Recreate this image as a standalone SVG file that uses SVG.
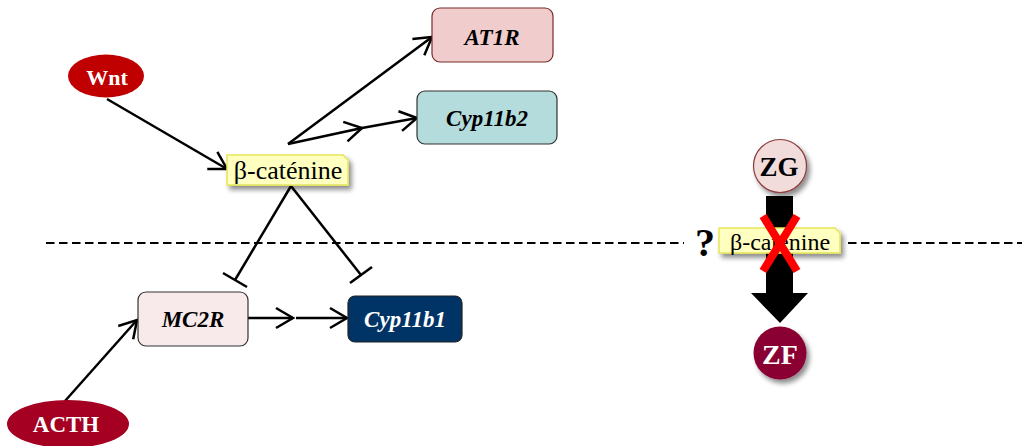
<svg xmlns="http://www.w3.org/2000/svg" width="1022" height="446" viewBox="0 0 1022 446">
<defs>
<filter id="sh" x="-20%" y="-20%" width="150%" height="160%">
<feGaussianBlur in="SourceAlpha" stdDeviation="2.5"/>
<feOffset dx="3" dy="4" result="b"/>
<feComponentTransfer><feFuncA type="linear" slope="0.45"/></feComponentTransfer>
<feMerge><feMergeNode/><feMergeNode in="SourceGraphic"/></feMerge>
</filter>
<marker id="arr" markerUnits="userSpaceOnUse" markerWidth="40" markerHeight="40" refX="0" refY="0" viewBox="-20 -20 40 40" orient="auto" overflow="visible">
<path d="M-17,-10 L0,0 L-17,10" fill="none" stroke="#000" stroke-width="2.5" stroke-linejoin="miter"/>
</marker>
</defs>
<style>
.ln{stroke:#000;stroke-width:2.5;fill:none}
.dash{stroke:#000;stroke-width:2;stroke-dasharray:8.5 4.5;fill:none}
.t{font-family:"Liberation Serif","Times New Roman",serif;text-anchor:middle}
.gene{font-weight:bold;font-style:italic;font-size:23px}
.bold{font-weight:bold}
.beta{fill:#ffffc0;stroke:#e6e65a;stroke-width:1.5}
</style>

<g id="separator">
<line class="dash" x1="46" y1="243" x2="684" y2="243"/>
<line class="dash" x1="848" y1="243" x2="1022" y2="243"/>
</g>

<g id="connectors">
<line class="ln" x1="107" y1="99" x2="227" y2="169" marker-end="url(#arr)"/>
<line class="ln" x1="288" y1="144" x2="432" y2="37" marker-end="url(#arr)"/>
<line class="ln" x1="288" y1="144" x2="362" y2="128" marker-end="url(#arr)"/>
<line class="ln" x1="362" y1="128" x2="417" y2="118" marker-end="url(#arr)"/>
<line class="ln" x1="291" y1="186" x2="235" y2="280"/>
<line class="ln" x1="223" y1="273" x2="247" y2="287"/>
<line class="ln" x1="291" y1="186" x2="361" y2="275"/>
<line class="ln" x1="350" y1="283" x2="372" y2="267"/>
<line class="ln" x1="65" y1="401" x2="137" y2="320" marker-end="url(#arr)"/>
<line class="ln" x1="248" y1="318" x2="293" y2="318" marker-end="url(#arr)"/>
<line class="ln" x1="296" y1="318" x2="347" y2="318" marker-end="url(#arr)"/>
</g>

<g id="wnt">
<ellipse cx="106" cy="76" rx="38" ry="21.5" fill="#c00000"/>
<text class="t bold" x="107" y="85" font-size="22" fill="#fff">Wnt</text>
</g>

<g id="at1r">
<rect x="432" y="8" width="121" height="54" rx="8" fill="#f0cccc" stroke="#7a2b2b" stroke-width="1.2"/>
<text class="t gene" x="492" y="45">AT1R</text>
</g>

<g id="cyp11b2">
<rect x="417" y="91" width="140" height="53" rx="8" fill="#b4dcdc" stroke="#333" stroke-width="1.2"/>
<text class="t gene" x="487" y="126">Cyp11b2</text>
</g>

<g id="beta-catenine">
<path class="beta" filter="url(#sh)" d="M227,155 H343 L348,160 V185 H227 Z"/>
<text class="t" x="288" y="179" font-size="26">β-caténine</text>
</g>

<g id="mc2r">
<rect x="138" y="292" width="110" height="54" rx="8" fill="#f8eaea" stroke="#333" stroke-width="1.2"/>
<text class="t gene" x="193" y="327">MC2R</text>
</g>

<g id="cyp11b1">
<rect x="348" y="296" width="114" height="46" rx="7" fill="#003366" stroke="#222" stroke-width="1.2"/>
<text class="t gene" x="405" y="327" fill="#fff">Cyp11b1</text>
</g>

<g id="acth">
<ellipse cx="68" cy="424" rx="61" ry="24" fill="#a50021"/>
<text class="t bold" x="66" y="432" font-size="23" fill="#fff">ACTH</text>
</g>

<g id="zg">
<circle cx="780" cy="166" r="26.5" fill="#f2dcdb" stroke="#8b3a3a" stroke-width="1.2" filter="url(#sh)"/>
<text class="t bold" x="779" y="176" font-size="27">ZG</text>
</g>

<g id="big-arrow">
<polygon points="766,196 793,196 793,293 808,293 780,323 751,293 766,293" fill="#000"/>
</g>

<g id="question">
<text class="t bold" x="705" y="256" font-size="40">?</text>
</g>

<g id="beta-catenine-2">
<path class="beta" filter="url(#sh)" d="M719,228 H835 L840,233 V253 H719 Z"/>
<text class="t" x="780" y="250" font-size="24">β-caténine</text>
</g>

<g id="cross">
<line x1="763" y1="216" x2="797" y2="271" stroke="#ff0000" stroke-width="8"/>
<line x1="797" y1="216" x2="763" y2="271" stroke="#ff0000" stroke-width="8"/>
</g>

<g id="zf">
<circle cx="780" cy="353" r="26.5" fill="#8b0033" filter="url(#sh)"/>
<text class="t bold" x="780" y="364" font-size="28" fill="#fff">ZF</text>
</g>
</svg>
